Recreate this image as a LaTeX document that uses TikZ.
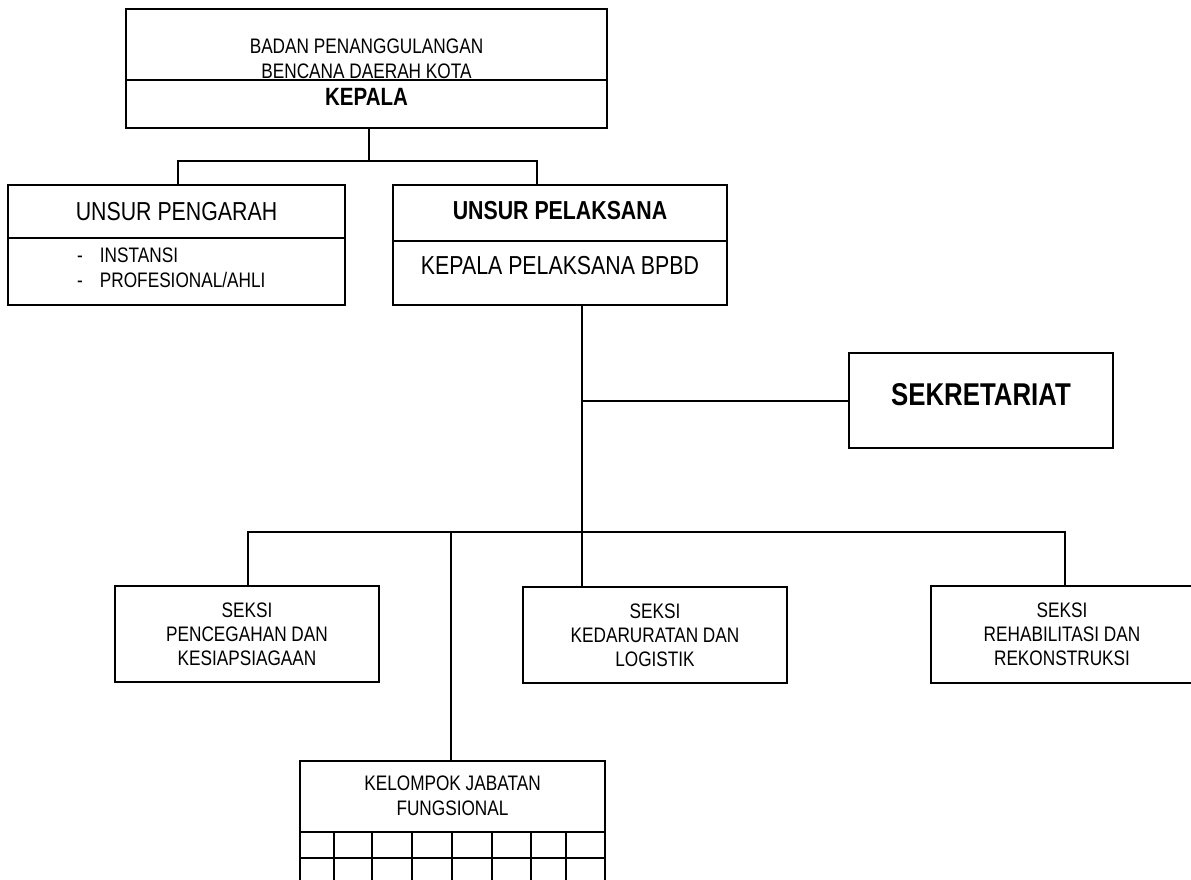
\documentclass[tikz,border=0pt]{standalone}
\usepackage{fontspec}
\setmainfont{Liberation Sans}[FakeStretch=0.82]
\usepackage{tikz}

\tikzset{
  box/.style={draw, line width=2pt, inner sep=0pt},
  conn/.style={line width=2pt},
  small/.style={font=\fontsize{21}{25}\selectfont, align=center, inner sep=0pt},
  large/.style={font=\fontsize{26}{30}\selectfont, align=center, inner sep=0pt}
}

\begin{document}
\begin{tikzpicture}[x=1pt, y=-1pt]
\useasboundingbox (0,0) rectangle (1191,879);

% Boxes
\node[box, minimum width=481pt, minimum height=119pt] (kepala) at (366.5,68.5) {};
\node[box, minimum width=337pt, minimum height=120pt] (pengarah) at (176.5,245) {};
\node[box, minimum width=334pt, minimum height=120pt] (pelaksana) at (560,245) {};
\node[box, minimum width=264pt, minimum height=95pt] (sekre) at (981,400.5) {};
\node[box, minimum width=264pt, minimum height=96pt] (cegah) at (247,634) {};
\node[box, minimum width=264pt, minimum height=96pt] (darurat) at (655,635) {};
\node[box, minimum width=264pt, minimum height=97pt] (rehab) at (1063,634.5) {};
\node[box, minimum width=305pt, minimum height=71pt] (fungsi) at (452.5,796.5) {};

% Dividers
\draw[conn] (kepala.west |- 0,80) -- (kepala.east |- 0,80);
\draw[conn] (pengarah.west |- 0,238) -- (pengarah.east |- 0,238);
\draw[conn] (pelaksana.west |- 0,241) -- (pelaksana.east |- 0,241);

% Table under the functional group
\foreach \x in {300,334,372,412,452,492,531,566,605}
  \draw[conn] (\x,832) -- (\x,892);
\draw[conn] (fungsi.south west) ++(0,25) -- ++(305,0);

% Texts
\node[small] (badan) at (366.5,58.5) {BADAN PENANGGULANGAN\\BENCANA DAERAH KOTA};
\node[large, font=\fontsize{25}{30}\selectfont\bfseries] (kepalatxt) at (366.5,97) {KEPALA};
\node[large] (pengarahtxt) at (176.5,212) {UNSUR PENGARAH};
\node[small, anchor=west] (anggota) at (77,269.5)
  {\begin{tabular}{@{}l@{\hspace{17pt}}l@{}}- & INSTANSI\\- & PROFESIONAL/AHLI\end{tabular}};
\node[large, font=\fontsize{26}{30}\selectfont\bfseries] (pelaksanatxt) at (560,211) {UNSUR PELAKSANA};
\node[large] (bpbd) at (560,266) {KEPALA PELAKSANA BPBD};
\node[large, font=\fontsize{31.5}{36}\selectfont\bfseries] (sekretxt) at (981,395) {SEKRETARIAT};
\node[small, font=\fontsize{21}{24}\selectfont] (cegahtxt) at (cegah) {SEKSI\\PENCEGAHAN DAN\\KESIAPSIAGAAN};
\node[small, font=\fontsize{21}{24}\selectfont] (daruratxt) at (darurat) {SEKSI\\KEDARURATAN DAN\\LOGISTIK};
\node[small, font=\fontsize{21}{24}\selectfont] (rehabtxt) at (1062,634.5) {SEKSI\\REHABILITASI DAN\\REKONSTRUKSI};
\node[small] (fungsitxt) at (452.5,795.5) {KELOMPOK JABATAN\\FUNGSIONAL};

% Connectors
\coordinate (tl) at (178,161);
\coordinate (tr) at (537,161);
\coordinate (spine) at (582,0);
\coordinate (busL) at (248,532);
\coordinate (busK) at (451,532);
\coordinate (busR) at (1065,532);

\draw[conn] (kepala.south -| 369,0) -- (369,161);
\draw[conn] (tl |- pengarah.north) -- (tl) -- (tr) -- (tr |- pelaksana.north);
\draw[conn] (spine |- pelaksana.south) -- (spine |- darurat.north);
\draw[conn] (spine |- sekre.west) -- (sekre.west);
\draw[conn] (busL |- cegah.north) -- (busL) -- (busR) -- (busR |- rehab.north);
\draw[conn] (busK) -- (busK |- fungsi.north);
\end{tikzpicture}
\end{document}
